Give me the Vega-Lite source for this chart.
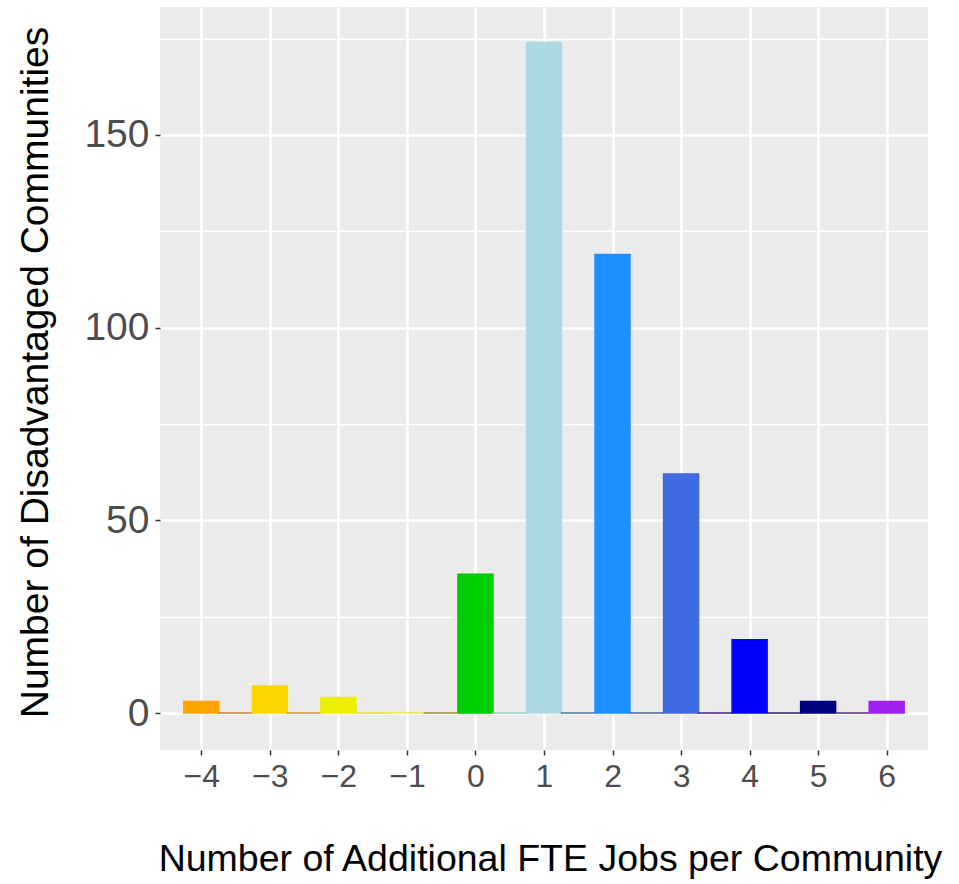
{
  "$schema": "https://vega.github.io/schema/vega-lite/v6.json",
  "autosize": "none",
  "width": 768,
  "height": 743,
  "padding": {"left": 160, "top": 7, "right": 31, "bottom": 134},
  "background": "white",
  "config": {
    "view": {"fill": "#EBEBEB", "stroke": null},
    "font": "Liberation Sans"
  },
  "data": {
    "values": [
      {"jobs": -4, "count": 3},
      {"jobs": -3.5, "count": 0},
      {"jobs": -3, "count": 7},
      {"jobs": -2.5, "count": 0},
      {"jobs": -2, "count": 4},
      {"jobs": -1.5, "count": 0},
      {"jobs": -1, "count": 0},
      {"jobs": -0.5, "count": 0},
      {"jobs": 0, "count": 36},
      {"jobs": 0.5, "count": 0},
      {"jobs": 1, "count": 174},
      {"jobs": 1.5, "count": 0},
      {"jobs": 2, "count": 119},
      {"jobs": 2.5, "count": 0},
      {"jobs": 3, "count": 62},
      {"jobs": 3.5, "count": 0},
      {"jobs": 4, "count": 19},
      {"jobs": 4.5, "count": 0},
      {"jobs": 5, "count": 3},
      {"jobs": 5.5, "count": 0},
      {"jobs": 6, "count": 3}
    ]
  },
  "mark": {"type": "bar", "size": 35, "strokeWidth": 1.5},
  "encoding": {
    "x": {
      "field": "jobs",
      "type": "quantitative",
      "scale": {"domain": [-4.53, 6.53], "nice": false, "zero": false},
      "axis": {
        "values": [-4, -3, -2, -1, 0, 1, 2, 3, 4, 5, 6],
        "format": "d",
        "labelExpr": "replace(datum.label, '-', '\u2212')",
        "title": "Number of Additional FTE Jobs per Community",
        "titleFontSize": 37.5,
        "titleFontWeight": "normal",
        "titleColor": "#000000",
        "titlePadding": 48,
        "titleX": 390,
        "labelFontSize": 32,
        "labelColor": "#4D4D4D",
        "labelPadding": 6,
        "tickColor": "#333333",
        "tickSize": 5,
        "tickWidth": 1.5,
        "domain": false,
        "grid": true,
        "gridColor": "#FFFFFF",
        "gridWidth": 2.5
      }
    },
    "y": {
      "field": "count",
      "type": "quantitative",
      "scale": {"domain": [-9.6, 183.2], "nice": false, "zero": false},
      "axis": {
        "values": [0, 25, 50, 75, 100, 125, 150, 175],
        "labelExpr": "datum.value % 50 === 0 ? datum.label : ''",
        "title": "Number of Disadvantaged Communities",
        "titleFontSize": 39,
        "titleFontWeight": "normal",
        "titleColor": "#000000",
        "titlePadding": 28,
        "titleY": 365,
        "labelFontSize": 39,
        "labelColor": "#4D4D4D",
        "labelPadding": 6,
        "tickColor": "#333333",
        "tickSize": 5,
        "tickWidth": 1.5,
        "tickOpacity": {"condition": {"test": "datum.value % 50 !== 0", "value": 0}, "value": 1},
        "domain": false,
        "grid": true,
        "gridColor": "#FFFFFF",
        "gridWidth": {"condition": {"test": "datum.value % 50 !== 0", "value": 1.5}, "value": 2.5}
      }
    },
    "color": {
      "field": "jobs",
      "type": "nominal",
      "legend": null,
      "scale": {
        "domain": [-4, -3.5, -3, -2.5, -2, -1.5, -1, -0.5, 0, 0.5, 1, 1.5, 2, 2.5, 3, 3.5, 4, 4.5, 5, 5.5, 6],
        "range": ["#FFA500", "#C8783C", "#FFD700", "#D08A3A", "#EEEE00", "#E8D840", "#E6E650", "#9A8A40", "#00CD00", "#A0C8C0", "#ADD8E6", "#5070A0", "#1E90FF", "#506090", "#4169E1", "#402080", "#0000FF", "#202060", "#000080", "#503070", "#A020F0"]
      }
    },
    "stroke": {
      "field": "jobs",
      "type": "nominal",
      "legend": null,
      "scale": {
        "domain": [-4, -3.5, -3, -2.5, -2, -1.5, -1, -0.5, 0, 0.5, 1, 1.5, 2, 2.5, 3, 3.5, 4, 4.5, 5, 5.5, 6],
        "range": ["#FFA500", "#C8783C", "#FFD700", "#D08A3A", "#EEEE00", "#E8D840", "#E6E650", "#9A8A40", "#00CD00", "#A0C8C0", "#ADD8E6", "#5070A0", "#1E90FF", "#506090", "#4169E1", "#402080", "#0000FF", "#202060", "#000080", "#503070", "#A020F0"]
      }
    }
  }
}
